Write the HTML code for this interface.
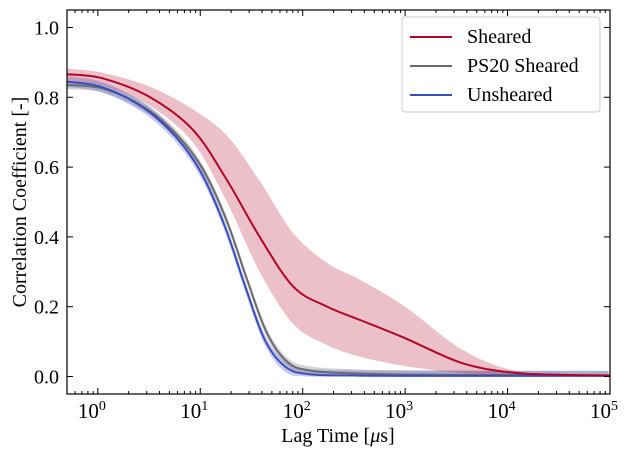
<!DOCTYPE html>
<html><head><meta charset="utf-8"><style>
html,body{margin:0;padding:0;background:#fff;}
svg{display:block;font-family:"Liberation Serif",serif;}
</style></head><body>
<svg id="chart" width="633" height="454"></svg>
<script>
const logTimes = [-0.30,0.05,0.51,0.93,1.26,1.58,1.91,2.24,2.56,3.0,3.54,4.02,4.51,5.0];
const shearedMean  = [0.866,0.854,0.80,0.706,0.563,0.40,0.257,0.20,0.162,0.11,0.04,0.012,0.005,0.003];
const shearedUpper = [0.882,0.87,0.83,0.765,0.69,0.56,0.41,0.325,0.277,0.20,0.08,0.02,0.006,0.004];
const shearedLower = [0.845,0.835,0.775,0.67,0.50,0.30,0.15,0.09,0.057,0.03,0.01,0.004,0.002,0.002];
const blueTimes = [-0.30,0.05,0.45,0.78,1.03,1.26,1.46,1.65,1.85,2.07,2.5,3.0,4.0,5.0];
const unsheared = [0.845,0.83,0.773,0.687,0.583,0.43,0.257,0.105,0.028,0.007,0.003,0.002,0.002,0.002];
const ps20      = [0.835,0.825,0.772,0.69,0.592,0.445,0.275,0.125,0.042,0.017,0.009,0.006,0.004,0.003];
const xTickLabels = ["0","1","2","3","4","5"];
const yTicks = [0.0,0.2,0.4,0.6,0.8,1.0];

const NS="http://www.w3.org/2000/svg";
const svg=document.getElementById('chart');
const L=67,R=610,T=10,B=394;
const xmin=Math.log10(0.5),xmax=5,ymin=-0.05,ymax=1.05;
const X=v=>L+(v-xmin)/(xmax-xmin)*(R-L);
const Y=v=>B-(v-ymin)/(ymax-ymin)*(B-T);
function el(tag,attrs,parent){const e=document.createElementNS(NS,tag);for(const k in attrs)e.setAttribute(k,attrs[k]);(parent||svg).appendChild(e);return e;}
function smooth(pts){let d=`M${pts[0][0]},${pts[0][1]}`;for(let i=0;i<pts.length-1;i++){const p0=pts[i-1]||pts[i],p1=pts[i],p2=pts[i+1],p3=pts[i+2]||p2;const c1=[p1[0]+(p2[0]-p0[0])/6,p1[1]+(p2[1]-p0[1])/6],c2=[p2[0]-(p3[0]-p1[0])/6,p2[1]-(p3[1]-p1[1])/6];d+=`C${c1[0]},${c1[1]} ${c2[0]},${c2[1]} ${p2[0]},${p2[1]}`;}return d;}
function pts(xs,ys){return xs.map((x,i)=>[X(x),Y(ys[i])]);}
function band(xs,lo,hi){const up=pts(xs,hi),dn=pts(xs,lo).reverse();return smooth(up)+"L"+smooth(dn).slice(1)+"Z";}
const clip=el('clipPath',{id:'pc'});el('rect',{x:L,y:T,width:R-L,height:B-T},clip);
const g=el('g',{'clip-path':'url(#pc)'});


const upG=ps20.map(v=>v+0.012),loG=ps20.map(v=>Math.max(v-0.012,0));
const upB=unsheared.map(v=>v+0.015),loB=unsheared.map(v=>Math.max(v-0.015,0));
const bG=el('path',{d:band(blueTimes,loG,upG),fill:'rgba(110,110,110,0.3)'},g);


const bB=el('path',{d:band(blueTimes.map(t=>t-0.02),loB,upB),fill:'rgba(59,76,192,0.28)'},g);


const bR=el('path',{d:band(logTimes,shearedLower,shearedUpper),fill:'rgba(180,4,38,0.25)'},g);


const lG=el('path',{d:smooth(pts(blueTimes,ps20)),fill:'none',stroke:'#6b6b6b','stroke-width':2},g);


const lB=el('path',{d:smooth(pts(blueTimes.map(t=>t-0.02),unsheared)),fill:'none',stroke:'#3b4cc0','stroke-width':2},g);


const lR=el('path',{d:smooth(pts(logTimes,shearedMean)),fill:'none',stroke:'#b40426','stroke-width':2},g);


const fr=el('rect',{x:L,y:T,width:R-L,height:B-T,fill:'none',stroke:'#000','stroke-width':1.2});


for(let d=-1;d<=5;d++){for(let m=1;m<10;m++){const v=Math.log10(m)+d;if(v<xmin-1e-9||v>xmax+1e-9)continue;const len=m===1?6:3;el('line',{x1:X(v),x2:X(v),y1:B,y2:B-len,stroke:'#000'});el('line',{x1:X(v),x2:X(v),y1:T,y2:T+len,stroke:'#000'});}}
xTickLabels.forEach((e,i)=>{const t=el('text',{x:X(+e)-6,y:B+24,'font-size':21,'text-anchor':'middle'});t.textContent='10';const s=el('tspan',{dy:-8,'font-size':14},t);s.textContent=e;});
yTicks.forEach(v=>{el('line',{x1:L,x2:L+6,y1:Y(v),y2:Y(v),stroke:'#000'});el('line',{x1:R,x2:R-6,y1:Y(v),y2:Y(v),stroke:'#000'});const t=el('text',{x:L-8,y:Y(v)+7,'font-size':20,'text-anchor':'end'});t.textContent=v.toFixed(1);});
const xt=el('text',{x:338,y:442,'font-size':20,'text-anchor':'middle'});xt.innerHTML='Lag Time [<tspan font-style="italic">μ</tspan>s]';
const yt=el('text',{x:0,y:0,'font-size':20,'text-anchor':'middle',transform:`translate(26,${(T+B)/2}) rotate(-90)`});yt.textContent='Correlation Coefficient [-]';
const lg=el('g',{});
el('rect',{x:402,y:17,width:198,height:95,rx:3,fill:'#fff','fill-opacity':0.85,stroke:'#ccc'},lg);
[['Sheared','#b40426',37],['PS20 Sheared','#6b6b6b',66],['Unsheared','#3b4cc0',95]].forEach(([n,c,y])=>{const e=el('g',{},lg);el('line',{x1:410,x2:452,y1:y,y2:y,stroke:c,'stroke-width':2},e);const t=el('text',{x:467,y:y+6,'font-size':20},e);t.textContent=n;});
</script>
</body></html>
